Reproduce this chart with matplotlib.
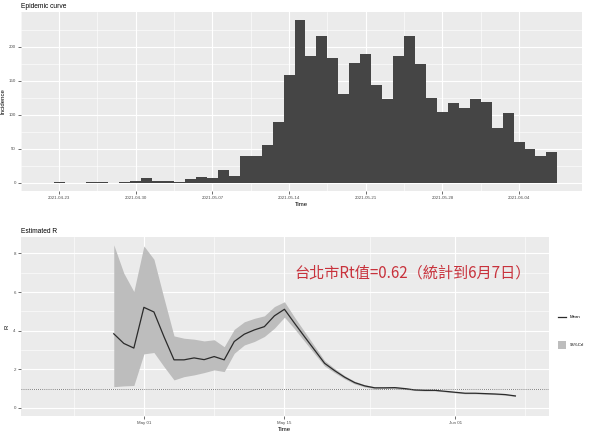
import matplotlib
matplotlib.use('Agg')
import matplotlib.pyplot as plt
import matplotlib.dates as mdates
import numpy as np
import pandas as pd

plt.rcParams['font.family'] = ['Liberation Sans', 'DejaVu Sans']

# daily incidence, 2021-04-23 .. 2021-06-07
inc_dates = pd.date_range('2021-04-23', '2021-06-07')
incidence = [1, 0, 0, 1, 1, 0, 1, 2,
             7, 3, 2, 1, 6, 8, 7, 19, 10, 39, 39, 56, 89, 158, 239, 187, 216, 183,
             130, 176, 189, 143, 123, 186, 215, 174, 125, 104, 118, 110, 123,
             119, 81, 102, 60, 50, 39, 46]

# estimated R, 2021-04-28 .. 2021-06-07
r_dates = pd.date_range('2021-04-28', '2021-06-07')
r_mean = [3.84, 3.34, 3.10, 5.21, 4.97, 3.69, 2.49, 2.49, 2.59, 2.50, 2.66, 2.49, 3.44, 3.82,
          4.04, 4.21, 4.77, 5.11, 4.39, 3.69, 3.00, 2.31, 1.93, 1.59, 1.31, 1.14, 1.04, 1.04,
          1.05, 1.00, 0.93, 0.91, 0.91, 0.86, 0.81, 0.76, 0.76, 0.74, 0.72, 0.69, 0.62]
r_upper = [8.45, 6.98, 6.03, 8.39, 7.70, 5.68, 3.73, 3.61, 3.56, 3.47, 3.53, 3.17, 4.07, 4.46,
           4.64, 4.77, 5.25, 5.50, 4.70, 3.95, 3.20, 2.45, 2.04, 1.67, 1.38, 1.20, 1.09, 1.08,
           1.09, 1.04, 0.97, 0.95, 0.94, 0.89, 0.84, 0.79, 0.79, 0.77, 0.75, 0.72, 0.65]
r_lower = [1.10, 1.14, 1.16, 2.80, 2.87, 2.14, 1.45, 1.62, 1.71, 1.83, 1.97, 1.88, 2.83, 3.26,
           3.44, 3.70, 4.13, 4.70, 4.10, 3.45, 2.80, 2.17, 1.82, 1.50, 1.24, 1.08, 0.99, 1.00,
           1.01, 0.96, 0.90, 0.88, 0.88, 0.83, 0.78, 0.73, 0.73, 0.71, 0.69, 0.66, 0.59]

top_ticks = pd.date_range('2021-04-23', '2021-06-04', freq='7D')
top_tick_labels = [d.strftime('%Y-%m-%d') for d in top_ticks]
bottom_ticks = pd.to_datetime(['2021-05-01', '2021-05-15', '2021-06-01'])
bottom_tick_labels = ['May 01', 'May 15', 'Jun 01']
bottom_minor = pd.to_datetime(['2021-04-24 00:00', '2021-05-08 00:00',
                               '2021-05-23 12:00', '2021-06-08 00:00'])

annotation = '台北市Rt值=0.62（統計到6月7日）'

panel_bg = '#EBEBEB'


def gg_style(ax):
    ax.set_facecolor(panel_bg)
    for s in ax.spines.values():
        s.set_visible(False)
    ax.grid(which='major', color='white', linewidth=0.8)
    ax.grid(which='minor', color='white', linewidth=0.4)
    ax.set_axisbelow(True)
    ax.tick_params(which='major', length=2, width=0.5, color='#333333',
                   labelsize=3.2, labelcolor='#4d4d4d', pad=1.5)
    ax.tick_params(which='minor', length=0)


fig = plt.figure(figsize=(6, 4.38), dpi=100)

# ---- epidemic curve ----
ax1 = fig.add_axes([0.0345, 0.564, 0.9355, 0.4086])
gg_style(ax1)
x_inc = mdates.date2num(inc_dates)
ax1.bar(x_inc, incidence, width=1.0, color='#454545', linewidth=0)
t0 = mdates.date2num(pd.Timestamp('2021-04-23'))
ax1.set_xlim(t0 - 2.63, t0 + 47.75)
ax1.set_ylim(-12, 251)
ax1.set_xticks(mdates.date2num(top_ticks))
ax1.set_xticklabels(top_tick_labels)
ax1.set_xticks(mdates.date2num(top_ticks) - 3.5, minor=True)
ax1.set_yticks([0, 50, 100, 150, 200])
ax1.set_yticks([25, 75, 125, 175, 225], minor=True)
ax1.set_xlabel('Time', fontsize=4.3, labelpad=1.5)
ax1.set_ylabel('Incidence', fontsize=4.3, labelpad=2)
ax1.set_title('Epidemic curve', fontsize=4.8, loc='left', pad=3)

# ---- estimated R ----
ax2 = fig.add_axes([0.0345, 0.0502, 0.8805, 0.4094])
gg_style(ax2)
x_r = mdates.date2num(r_dates)
ax2.fill_between(x_r, r_lower, r_upper, color='#bdbdbd', linewidth=0, label='95%CrI')
ax2.plot(x_r, r_mean, color='#2b2b2b', linewidth=0.9, label='Mean')
ax2.axhline(1, color='#555555', linestyle=(0, (1, 1.5)), linewidth=0.6)
b1 = mdates.date2num(pd.Timestamp('2021-05-01'))
b2 = mdates.date2num(pd.Timestamp('2021-06-01'))
ax2.set_xlim(b1 - 12.27, b2 + 9.35)
ax2.set_ylim(-0.42, 8.87)
ax2.set_xticks(mdates.date2num(bottom_ticks))
ax2.set_xticklabels(bottom_tick_labels)
ax2.set_xticks(mdates.date2num(bottom_minor), minor=True)
ax2.set_yticks([0, 2, 4, 6, 8])
ax2.set_yticks([1, 3, 5, 7], minor=True)
ax2.set_xlabel('Time', fontsize=4.3, labelpad=1.5)
ax2.set_ylabel('R', fontsize=4.3, labelpad=3)
ax2.set_title('Estimated R', fontsize=4.8, loc='left', pad=3)

ax2.text(0.518, 0.80, annotation, transform=ax2.transAxes, fontsize=10.9,
         color='#c8323c', family=['Noto Sans CJK TC', 'DejaVu Sans'],
         fontweight='light', va='center', ha='left')

# legend drawn in figure coordinates
fig.lines.append(plt.Line2D([558 / 600, 566 / 600], [1 - 316.7 / 438] * 2,
                            color='#2b2b2b', linewidth=0.9, transform=fig.transFigure))
fig.patches.append(plt.Rectangle((558 / 600, 1 - 349.3 / 438), 8 / 600, 8.6 / 438,
                                 facecolor='#bdbdbd', edgecolor='none',
                                 transform=fig.transFigure))
fig.text(570 / 600, 1 - 316.7 / 438, 'Mean', fontsize=3.2, va='center', ha='left')
fig.text(570 / 600, 1 - 345 / 438, '95%CrI', fontsize=3.2, va='center', ha='left')

fig.savefig('out.png', dpi=100)
